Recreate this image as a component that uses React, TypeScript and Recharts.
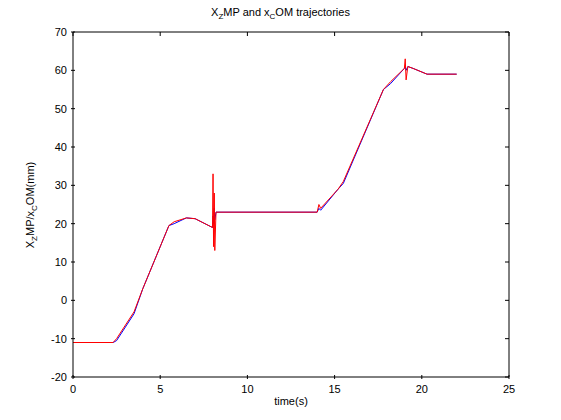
import React from "react"
import { LineChart, Line, XAxis, YAxis, ReferenceLine } from "recharts"

const times = [0, 2.3, 2.5, 3.5, 4, 5.5, 5.8, 6.5, 7, 8, 8.03, 8.06, 8.1, 8.13, 8.2, 14, 14.1, 14.2, 15.2, 15.5, 17.8, 18.2, 19, 19.05, 19.1, 19.2, 19.5, 20.3, 22]
const xZmp = [-11, -11, -10.5, -3.5, 3, 19.5, 20, 21.5, 21.3, 19, 22, 20, 24, 21, 23, 23, 24, 23.5, 29, 30.5, 55, 56.5, 60.5, 61, 60, 61, 60.5, 59, 59]
const xCom = [-11, -11, -10, -3, 3, 19.5, 20.5, 21.5, 21.3, 19, 33, 14, 28, 13, 23, 23, 25, 24, 29, 31, 55, 57, 60.5, 63, 57.5, 61, 60.5, 59, 59]
const xTicks = [0, 5, 10, 15, 20, 25]
const yTicks = [-20, -10, 0, 10, 20, 30, 40, 50, 60, 70]

const data = times.map((t, i) => ({ t, zmp: xZmp[i], com: xCom[i] }))
const font = "'Liberation Sans', Arial, sans-serif"
const sub = { fontSize: 8, verticalAlign: "baseline", position: "relative" as const, top: 3, lineHeight: 0 }

const XTick = (p: any) => (
  <g>
    <line x1={p.x} x2={p.x} y1={p.y} y2={p.y - 4} stroke="#000" />
    <line x1={p.x} x2={p.x} y1={32} y2={36} stroke="#000" />
    <text x={p.x} y={p.y + 14} textAnchor="middle" fontSize={11} fontFamily={font}>{p.payload.value}</text>
  </g>
)
const YTick = (p: any) => (
  <g>
    <line x1={p.x} x2={p.x + 4} y1={p.y} y2={p.y} stroke="#000" />
    <line x1={505} x2={509} y1={p.y} y2={p.y} stroke="#000" />
    <text x={p.x - 4} y={p.y + 4} textAnchor="end" fontSize={11} fontFamily={font}>{p.payload.value}</text>
  </g>
)

export default function App() {
  return (
    <div style={{ margin: "-8px 0 0 -8px", width: 561, height: 420, position: "relative", background: "#fff", fontFamily: font }}>
      <LineChart width={561} height={420} data={data} margin={{ top: 32, right: 52, left: 0, bottom: 0 }}>
        <XAxis dataKey="t" type="number" domain={[0, 25]} ticks={xTicks} height={43} tickLine={false} tickSize={0} tick={<XTick />} stroke="#000" />
        <YAxis type="number" domain={[-20, 70]} ticks={yTicks} width={73} tickLine={false} tickSize={0} tick={<YTick />} stroke="#000" />
        <ReferenceLine y={70} stroke="#000" />
        <ReferenceLine x={25} stroke="#000" />
        <Line dataKey="zmp" stroke="#0000ff" dot={false} isAnimationActive={false} strokeWidth={1} />
        <Line dataKey="com" stroke="#ff0000" dot={false} isAnimationActive={false} strokeWidth={1} />
      </LineChart>
      <div style={{ position: "absolute", top: 5, width: 561, textAlign: "center", fontSize: 11, lineHeight: "14px" }}>
        X<span style={sub}>Z</span>MP and x<span style={sub}>C</span>OM trajectories
      </div>
      <div style={{ position: "absolute", top: 395, left: 73, width: 436, textAlign: "center", fontSize: 11 }}>time(s)</div>
      <div style={{ position: "absolute", left: 30, top: 205, transform: "translate(-50%,-50%) rotate(-90deg)", fontSize: 11, lineHeight: "14px", whiteSpace: "nowrap" }}>
        X<span style={sub}>Z</span>MP/x<span style={sub}>C</span>OM(mm)
      </div>
    </div>
  )
}
